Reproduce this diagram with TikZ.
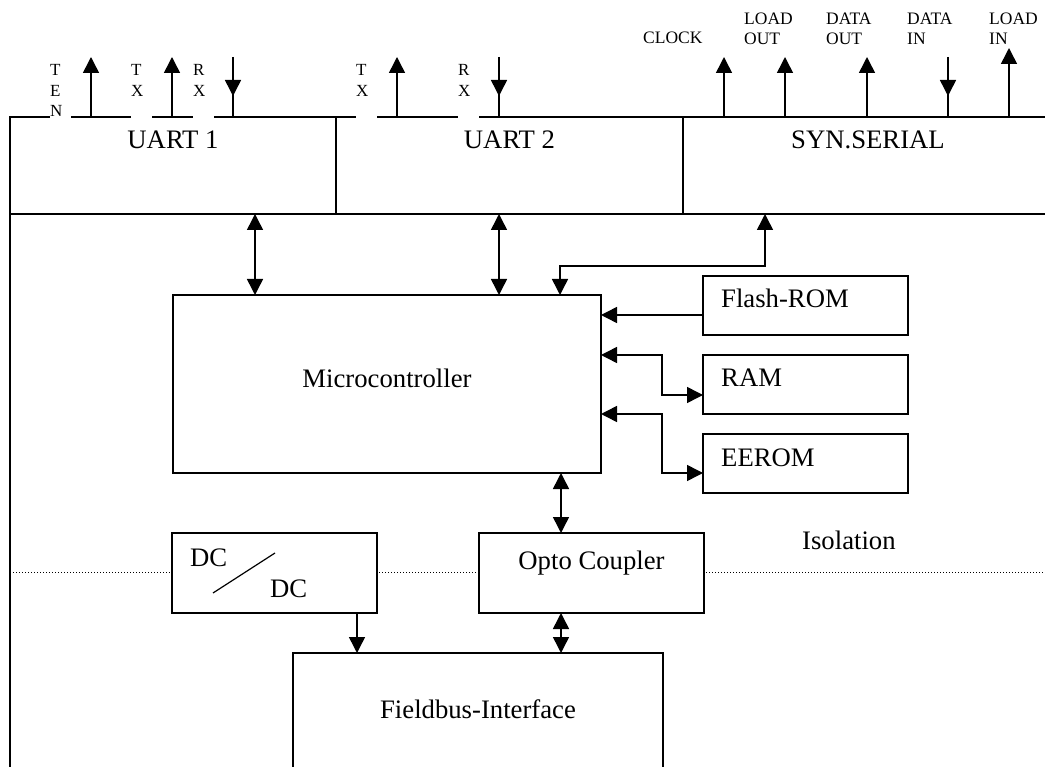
\documentclass[tikz,border=0pt]{standalone}
\usepackage{fontspec}
\setmainfont{Liberation Serif}
\usetikzlibrary{arrows.meta, positioning}

\tikzset{
	blk/.style={draw, line width=1.5, fill=white, inner sep=0, outer sep=0},
	big/.style={font=\fontsize{26.7}{30}\selectfont, inner sep=0},
	sml/.style={font=\fontsize{17.5}{19.5}\selectfont, inner sep=0, align=left},
	sig/.style={font=\fontsize{17}{20.5}\selectfont, inner sep=0, fill=white, anchor=north west, text width=21, align=left, minimum height=56.5},
	tip/.style={-{Triangle[length=16,width=16]}, line width=1.5},
	bi/.style={{Triangle[length=16,width=16]}-{Triangle[length=16,width=16]}, line width=1.5}
}

\begin{document}
\begin{tikzpicture}[x=1pt, y=-1pt]
	\useasboundingbox (0,0) rectangle (1045,767);
	% isolation line %
	\coordinate (isol) at (10,572);
	\coordinate (isor) at (1045,572);
	\draw[dotted, line width=1] (isol) -- (isor);

	% nodes %
	\node[blk, anchor=north west, minimum width=326, minimum height=97] (u1) at (10,117) {};
	\node[blk, right=0pt of u1, minimum width=347, minimum height=97] (u2) {};
	\node[blk, right=0pt of u2, minimum width=370, minimum height=97] (syn) {};
	\node[blk, anchor=north west, minimum width=428, minimum height=178] (mc) at (173,295) {};
	\node[blk, anchor=north west, minimum width=205, minimum height=59] (flash) at (703,276) {};
	\node[blk, below=20pt of flash, minimum width=205, minimum height=59] (ram) {};
	\node[blk, below=20pt of ram, minimum width=205, minimum height=59] (eerom) {};
	\node[blk, anchor=north west, minimum width=205, minimum height=80] (dc) at (172,533) {};
	\node[blk, right=102pt of dc, minimum width=225, minimum height=80] (opto) {};
	\node[blk, anchor=north west, minimum width=370, minimum height=200] (fb) at (293,653) {};
	\draw[line width=1.5] (u1.south west) -- ++(0,570);

	% texts %
	\node[big, anchor=base] (u1t) at ([yshift=-32]u1.north) {UART 1};
	\node[big, anchor=base] (u2t) at ([yshift=-32]u2.north) {UART 2};
	\node[big, anchor=base] (synt) at ([yshift=-32]syn.north) {SYN.SERIAL};
	\node[big, anchor=base] (mct) at ([yshift=-93]mc.north) {Microcontroller};
	\node[big, anchor=base west] (flasht) at ([xshift=18,yshift=-32]flash.north west) {Flash-ROM};
	\node[big, anchor=base west] (ramt) at ([xshift=18,yshift=-32]ram.north west) {RAM};
	\node[big, anchor=base west] (eeromt) at ([xshift=18,yshift=-32]eerom.north west) {EEROM};
	\node[big, anchor=base west] (dca) at ([xshift=18,yshift=-33]dc.north west) {DC};
	\node[big, anchor=base west] (dcb) at ([xshift=98,yshift=-64]dc.north west) {DC};
	\draw[line width=1.2] ([xshift=41,yshift=-60]dc.north west) -- ++(62,-40);
	\node[big, anchor=base] (optot) at ([yshift=-36]opto.north) {Opto Coupler};
	\node[big, anchor=base] (fbt) at ([yshift=-65]fb.north) {Fieldbus-Interface};
	\node[big, anchor=base west] (iso) at (802,549) {Isolation};

	% signal labels %
	\node[sig] (tenl) at (50,62) {T\\E\\N};
	\node[sig] (txa) at (131,62) {T\\X\\\phantom{N}};
	\node[sig] (rxa) at (193,62) {R\\X\\\phantom{N}};
	\node[sig] (txb) at (356,62) {T\\X\\\phantom{N}};
	\node[sig] (rxb) at (458,62) {R\\X\\\phantom{N}};
	\node[sml, anchor=base west] (clk) at (643,44) {CLOCK};
	\node[sml, anchor=north west] (ldo) at (744,13) {LOAD\\OUT};
	\node[sml, anchor=north west] (dto) at (826,13) {DATA\\OUT};
	\node[sml, anchor=north west] (dti) at (907,13) {DATA\\IN};
	\node[sml, anchor=north west] (ldi) at (989,13) {LOAD\\IN};

	% signal edges %
	\draw[tip] ([xshift=81]u1.north west) -- ++(0,-60);
	\draw[tip] ([xshift=162]u1.north west) -- ++(0,-60);
	\draw[line width=1.5] ([xshift=223]u1.north west) -- ++(0,-60) coordinate (rxat);
	\draw[tip] (rxat) -- ++(0,39);
	\draw[tip] ([xshift=61]u2.north west) -- ++(0,-60);
	\draw[line width=1.5] ([xshift=163]u2.north west) -- ++(0,-60) coordinate (rxbt);
	\draw[tip] (rxbt) -- ++(0,39);
	\draw[tip] ([xshift=41]syn.north west) -- ++(0,-60);
	\draw[tip] ([xshift=102]syn.north west) -- ++(0,-60);
	\draw[tip] ([xshift=184]syn.north west) -- ++(0,-60);
	\draw[line width=1.5] ([xshift=265]syn.north west) -- ++(0,-60) coordinate (dtit);
	\draw[tip] (dtit) -- ++(0,39);
	\draw[tip] ([xshift=326]syn.north west) -- ++(0,-69);

	% edges %
	\draw[bi] ([xshift=245]u1.south west) -- ([xshift=245]u1.south west |- mc.north);
	\draw[bi] ([xshift=163]u2.south west) -- ([xshift=163]u2.south west |- mc.north);
	\draw[bi] ([xshift=82]syn.south west) -- ++(0,52) -| ([xshift=387]mc.north west);
	\draw[tip] ([yshift=-9.5]flash.west) -- ([yshift=-9.5]flash.west -| mc.east);
	\draw[bi] ([yshift=-60]mc.north east) -- ++(61,0) |- ([yshift=-10.5]ram.west);
	\draw[bi] ([yshift=-119]mc.north east) -- ++(61,0) |- ([yshift=-9.5]eerom.west);
	\draw[bi] ([xshift=-40]mc.south east) -- ([xshift=-40]mc.south east |- opto.north);
	\draw[bi] ([xshift=-30.5]opto.south) -- ([xshift=-30.5]opto.south |- fb.north);
	\draw[tip] ([xshift=-20]dc.south east) -- ([xshift=-20]dc.south east |- fb.north);
\end{tikzpicture}
\end{document}
